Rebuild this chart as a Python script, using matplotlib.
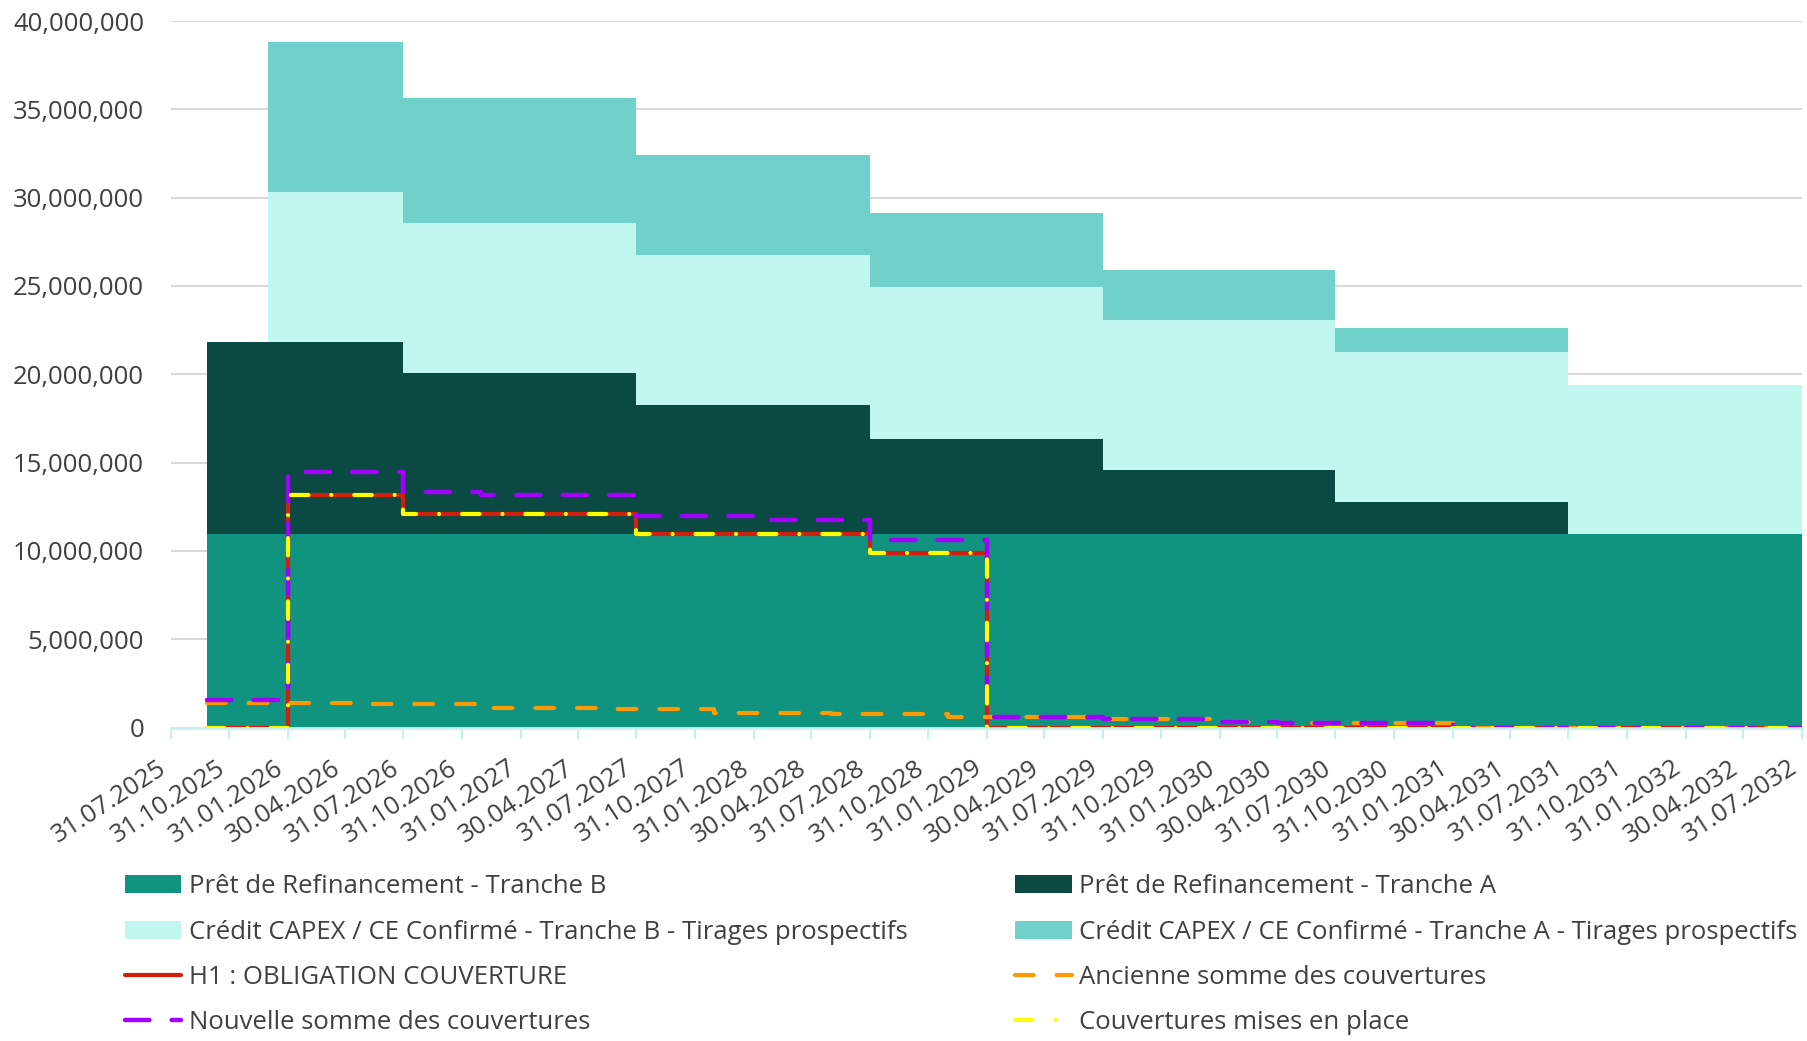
import matplotlib
matplotlib.use('Agg')
import matplotlib.pyplot as plt
import numpy as np
import pandas as pd
from matplotlib.ticker import FuncFormatter

plt.rcParams['font.family'] = ['Open Sans', 'DejaVu Sans']

# x axis labels (quarter ends)
tick_labels = ['31.07.2025', '31.10.2025', '31.01.2026', '30.04.2026', '31.07.2026',
               '31.10.2026', '31.01.2027', '30.04.2027', '31.07.2027', '31.10.2027',
               '31.01.2028', '30.04.2028', '31.07.2028', '31.10.2028', '31.01.2029',
               '30.04.2029', '31.07.2029', '31.10.2029', '31.01.2030', '30.04.2030',
               '31.07.2030', '31.10.2030', '31.01.2031', '30.04.2031', '31.07.2031',
               '31.10.2031', '31.01.2032', '30.04.2032', '31.07.2032']

# stacked debt areas (millions), value holds from each date to the next
area_dates = ['2025-09-26', '2025-12-31', '2026-07-31', '2027-07-31', '2028-07-31',
              '2029-07-31', '2030-07-31', '2031-07-31', '2032-07-31']
tranche_b = [10.95, 10.95, 10.95, 10.95, 10.95, 10.95, 10.95, 10.95, 10.95]
tranche_a = [10.88, 10.88, 9.12, 7.29, 5.39, 3.65, 1.83, 0.0, 0.0]
capex_b = [0.0, 8.5, 8.5, 8.5, 8.6, 8.5, 8.48, 8.46, 8.46]
capex_a = [0.0, 8.5, 7.06, 5.69, 4.18, 2.81, 1.38, 0.0, 0.0]

# hedging lines (millions)
line_dates = ['2025-09-26', '2026-01-31', '2026-05-31', '2026-07-31', '2026-11-30',
              '2027-05-31', '2027-07-31', '2027-11-30', '2028-01-31', '2028-05-31',
              '2028-07-31', '2028-11-30', '2029-01-31', '2029-07-31', '2030-01-31',
              '2030-04-30', '2031-01-31', '2032-07-31']
h1_obligation = [0.0, 13.15, 13.15, 12.07, 12.07, 12.07, 10.94, 10.94, 10.94, 10.94,
                 9.86, 9.86, 0.0, 0.0, 0.0, 0.0, 0.0, 0.0]
ancienne = [1.37, 1.37, 1.32, 1.32, 1.12, 1.06, 1.06, 0.82, 0.82, 0.76,
            0.76, 0.57, 0.57, 0.50, 0.33, 0.24, 0.0, 0.0]
nouvelle = [1.57, 14.45, 14.45, 13.35, 13.17, 13.17, 12.0, 12.0, 11.77, 11.77,
            10.62, 10.62, 0.57, 0.50, 0.33, 0.24, 0.0, 0.0]
mises_en_place = [0.0, 13.15, 13.15, 12.07, 12.07, 12.07, 10.94, 10.94, 10.94, 10.94,
                  9.86, 9.86, 0.0, 0.0, 0.0, 0.0, 0.0, 0.0]

fs = 18.5

fig = plt.figure(figsize=(18.08, 10.41), dpi=100)
ax = fig.add_axes([0.0944, 0.3011, 0.9021, 0.6787])

ad = pd.to_datetime(area_dates)
layers = [
    (tranche_b, '#10937F', 'Prêt de Refinancement - Tranche B'),
    (tranche_a, '#0B4A43', 'Prêt de Refinancement - Tranche A'),
    (capex_b, '#C0F7EF', 'Crédit CAPEX / CE Confirmé - Tranche B - Tirages prospectifs'),
    (capex_a, '#6FD1CA', 'Crédit CAPEX / CE Confirmé - Tranche A - Tirages prospectifs'),
]
area_handles = []
base = np.zeros(len(ad))
for vals, col, lab in layers:
    top = base + np.array(vals)
    h = ax.fill_between(ad, base, top, step='post', color=col, linewidth=0, label=lab)
    area_handles.append(h)
    base = top

ld = pd.to_datetime(line_dates)
h_red, = ax.plot(ld, h1_obligation, drawstyle='steps-post', color='#D21F0C', lw=3.0,
                 solid_capstyle='round', label='H1 : OBLIGATION COUVERTURE')
h_org, = ax.plot(ld, ancienne, drawstyle='steps-post', color='#FF9900', lw=3.0,
                 dashes=(4.5, 5.5), dash_capstyle='round', label='Ancienne somme des couvertures')
h_pur, = ax.plot(ld, nouvelle, drawstyle='steps-post', color='#A100FF', lw=3.2,
                 dashes=(5.5, 5.0), dash_capstyle='round', label='Nouvelle somme des couvertures')
h_yel, = ax.plot(ld, mises_en_place, drawstyle='steps-post', color='#FFFF00', lw=3.0,
                 dashes=(4.2, 5.5, 0.01, 5.5), dash_capstyle='round', label='Couvertures mises en place')

# axes styling
ticks = pd.to_datetime(tick_labels, format='%d.%m.%Y')
ax.set_xlim(ticks[0], ticks[-1])
ax.set_ylim(0, 40)
ax.set_xticks(ticks)
ax.set_xticklabels(tick_labels, rotation=33, ha='right', va='top')
ax.set_yticks(np.arange(0, 41, 5))
ax.yaxis.set_major_formatter(FuncFormatter(lambda v, p: f'{v * 1e6:,.0f}'))
ax.tick_params(axis='y', length=0, pad=19, labelsize=fs, labelcolor='#404040')
ax.tick_params(axis='x', length=8, width=1.5, color='#C6F2EE', pad=12, labelsize=fs, labelcolor='#404040')
ax.grid(axis='y', color='#D9D9D9', lw=1.5)
ax.set_axisbelow(True)
for s in ['top', 'right', 'left']:
    ax.spines[s].set_visible(False)
ax.spines['bottom'].set_color('#C6F2EE')
ax.spines['bottom'].set_linewidth(2)

# legend in two columns below the chart
leg_kw = dict(loc='upper left', frameon=False, fontsize=fs, borderpad=0, borderaxespad=0,
              handlelength=2.2, handletextpad=0.3, labelspacing=0.79, labelcolor='#404040')
fig.legend([area_handles[0], area_handles[2], h_red, h_pur],
           [layers[0][2], layers[2][2], h_red.get_label(), h_pur.get_label()],
           bbox_to_anchor=(0.0689, 0.160), **leg_kw)
fig.legend([area_handles[1], area_handles[3], h_org, h_yel],
           [layers[1][2], layers[3][2], h_org.get_label(), h_yel.get_label()],
           bbox_to_anchor=(0.5614, 0.160), **leg_kw)

fig.savefig('out.png', dpi=100)
